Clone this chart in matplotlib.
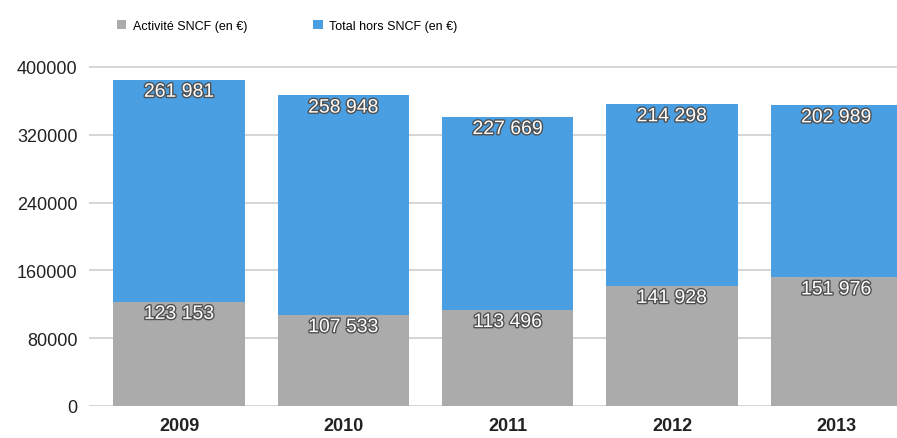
import matplotlib
matplotlib.use("Agg")
import matplotlib.pyplot as plt
import matplotlib.patheffects as pe
from matplotlib.patches import Patch

years = ["2009", "2010", "2011", "2012", "2013"]
activite_sncf = [123153, 107533, 113496, 141928, 151976]
total_hors_sncf = [261981, 258948, 227669, 214298, 202989]
yticks = [0, 80000, 160000, 240000, 320000, 400000]
series_names = ["Activité SNCF (en €)", "Total hors SNCF (en €)"]

plt.rcParams['font.family'] = ['Liberation Sans', 'DejaVu Sans']

fig = plt.figure(figsize=(8.97, 4.39), dpi=100)
ax = fig.add_axes([0.099, 0.0729, 0.901, 0.7916])

gray = "#ababab"
blue = "#4a9fe2"
x = list(range(len(years)))
w = 0.8

ax.bar(x, activite_sncf, width=w, color=gray, zorder=3)
ax.bar(x, total_hors_sncf, width=w, bottom=activite_sncf, color=blue, zorder=3)

fx = [pe.withStroke(linewidth=2.0, foreground="#505050")]
for i in x:
    g = activite_sncf[i]
    t = total_hors_sncf[i]
    ax.text(i, g - 15000, f"{g:,}".replace(",", " "), ha="center", va="center",
            color="white", fontsize=14, path_effects=fx, zorder=5)
    ax.text(i, g + t - 15000, f"{t:,}".replace(",", " "), ha="center", va="center",
            color="white", fontsize=14, path_effects=fx, zorder=5)

ax.set_xlim(-0.55, 4.37)
ax.set_ylim(0, 410000)
ax.set_yticks(yticks)
ax.set_yticklabels([str(v) for v in yticks], fontsize=13, color="#222222")
ax.set_xticks(x)
ax.set_xticklabels(years, fontsize=13, color="#222222", fontweight="semibold")
ax.tick_params(axis="both", length=0, pad=8)
ax.yaxis.grid(True, color="#d2d2d2", linewidth=1.3, zorder=0)
for s in ax.spines.values():
    s.set_visible(False)

handles = [Patch(facecolor=gray, edgecolor="none"), Patch(facecolor=blue, edgecolor="none")]
fig.legend(handles, series_names, loc="center left", bbox_to_anchor=(117 / 897, 1 - 27 / 439),
           ncol=2, frameon=False, handlelength=0.75, handleheight=0.75,
           handletextpad=0.5, columnspacing=5.3, borderpad=0, borderaxespad=0,
           prop={"size": 9})

fig.savefig("out.png", dpi=100)
